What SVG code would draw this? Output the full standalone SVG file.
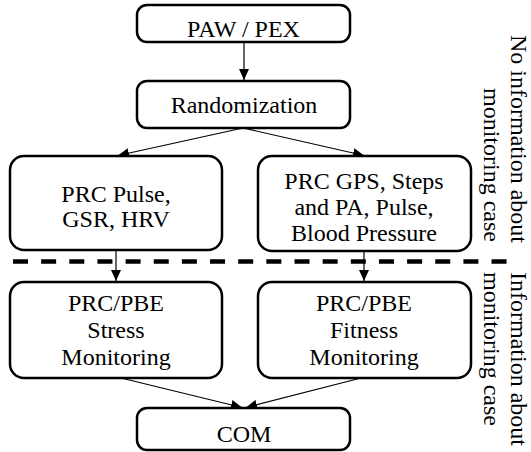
<svg xmlns="http://www.w3.org/2000/svg" width="531" height="452" viewBox="0 0 531 452">
<style>
.box{fill:#fff;stroke:#000;stroke-width:2.5}
.t{font-family:"Liberation Serif","Times New Roman",serif;font-size:24px;fill:#000;text-anchor:middle}
.r{font-family:"Liberation Serif","Times New Roman",serif;font-size:24px;fill:#000}
.c{stroke:#000;stroke-width:1.2;fill:none;marker-end:url(#ah)}
</style>
<defs>
<marker id="ah" markerUnits="userSpaceOnUse" markerWidth="12" markerHeight="10" refX="11" refY="5" orient="auto">
<path d="M0,0 L11,5 L0,10 Z" fill="#000"/>
</marker>
</defs>
<line x1="13" y1="261.5" x2="517" y2="261.5" stroke="#000" stroke-width="4.5" stroke-dasharray="15 13.15"/>
<g id="connectors">
<line class="c" x1="244" y1="42" x2="244" y2="80"/>
<line class="c" x1="243" y1="128" x2="118" y2="155.5"/>
<line class="c" x1="243" y1="128" x2="364" y2="155.5"/>
<line class="c" x1="116" y1="250" x2="116" y2="281"/>
<line class="c" x1="364" y1="251" x2="364" y2="281"/>
<line class="c" x1="121" y1="378" x2="242" y2="407.5"/>
<line class="c" x1="361" y1="378" x2="246" y2="407.5"/>
</g>
<g id="paw">
<rect class="box" x="137" y="5" width="213" height="37" rx="10"/>
<text class="t" x="243.5" y="37">PAW / PEX</text>
</g>
<g id="randomization">
<rect class="box" x="137" y="81" width="213" height="47" rx="10"/>
<text class="t" x="244" y="113">Randomization</text>
</g>
<g id="prc-left">
<rect class="box" x="10" y="156" width="212" height="94" rx="14"/>
<text class="t" x="116" y="202">PRC Pulse,</text>
<text class="t" x="116" y="227">GSR, HRV</text>
</g>
<g id="prc-right">
<rect class="box" x="258" y="156" width="213" height="95" rx="14"/>
<text class="t" x="364" y="189">PRC GPS, Steps</text>
<text class="t" x="364" y="215">and PA, Pulse,</text>
<text class="t" x="364" y="241">Blood Pressure</text>
</g>
<g id="stress">
<rect class="box" x="10" y="282" width="212" height="96" rx="14"/>
<text class="t" x="116" y="311">PRC/PBE</text>
<text class="t" x="116" y="338">Stress</text>
<text class="t" x="116" y="365">Monitoring</text>
</g>
<g id="fitness">
<rect class="box" x="258" y="282" width="213" height="96" rx="14"/>
<text class="t" x="364" y="311">PRC/PBE</text>
<text class="t" x="364" y="338">Fitness</text>
<text class="t" x="364" y="365">Monitoring</text>
</g>
<g id="com">
<rect class="box" x="137" y="408" width="213" height="42" rx="10"/>
<text class="t" x="244" y="442">COM</text>
</g>
<g id="side-labels">
<text class="r" transform="translate(511,35) rotate(90)">No information about</text>
<text class="r" transform="translate(484,88) rotate(90)">monitoring case</text>
<text class="r" transform="translate(511,272) rotate(90)">Information about</text>
<text class="r" transform="translate(484,272) rotate(90)">monitoring case</text>
</g>
</svg>
